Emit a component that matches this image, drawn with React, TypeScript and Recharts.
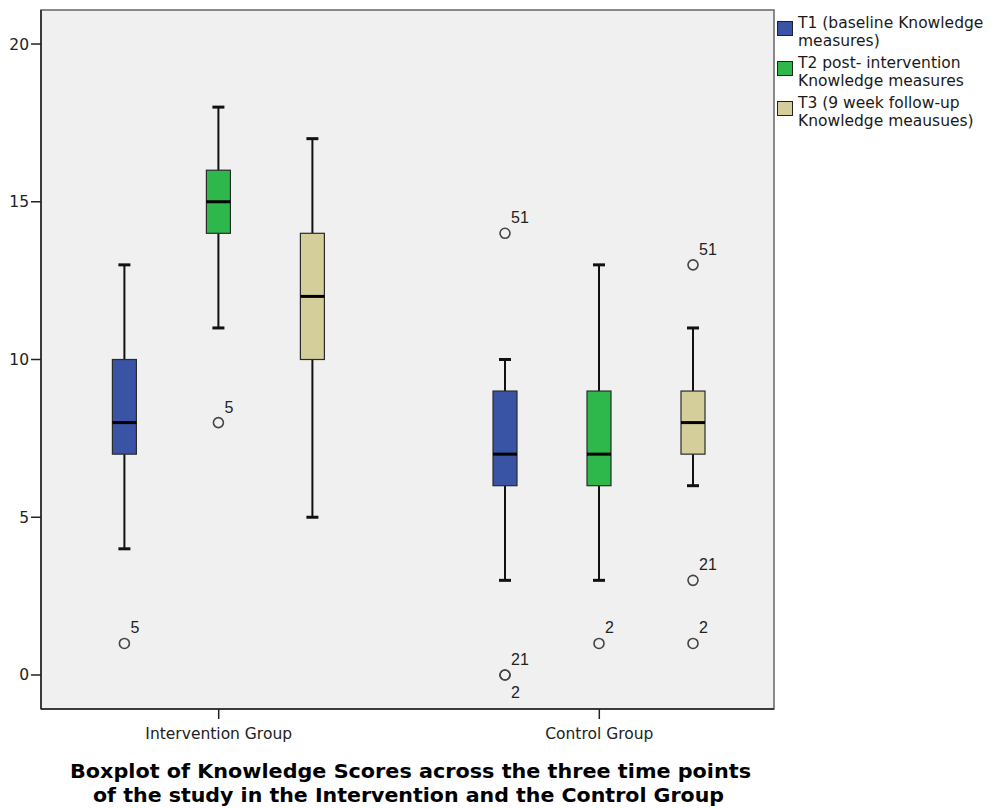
import React from 'react';
import { BarChart, Bar, XAxis, YAxis, CartesianGrid, ReferenceArea, Legend, Label } from 'recharts';

// ---- Data ----
const groups = ['Intervention Group', 'Control Group'];
const groupPos = [1, 2];
const yTicks = [0, 5, 10, 15, 20];

const t1Stats = [
  { min: 4, q1: 7, median: 8, q3: 10, max: 13 },
  { min: 3, q1: 6, median: 7, q3: 9, max: 10 },
];
const t2Stats = [
  { min: 11, q1: 14, median: 15, q3: 16, max: 18 },
  { min: 3, q1: 6, median: 7, q3: 9, max: 13 },
];
const t3Stats = [
  { min: 5, q1: 10, median: 12, q3: 14, max: 17 },
  { min: 6, q1: 7, median: 8, q3: 9, max: 11 },
];

const t1Outliers = [
  [{ value: 1, label: '5' }],
  [{ value: 14, label: '51' }, { value: 0, label: '21' }, { value: 0, label: '2', below: true }],
];
const t2Outliers = [
  [{ value: 8, label: '5' }],
  [{ value: 1, label: '2' }],
];
const t3Outliers = [
  [],
  [{ value: 13, label: '51' }, { value: 3, label: '21' }, { value: 1, label: '2' }],
];

const seriesKeys = ['t1', 't2', 't3'];
const seriesColors = ['#3A54A5', '#2EB84B', '#D4CF9A'];
const legendLines = [
  ['T1 (baseline Knowledge', 'measures)'],
  ['T2 post- intervention', 'Knowledge measures'],
  ['T3 (9 week follow-up', 'Knowledge meausues)'],
];
const titleLines = [
  'Boxplot of Knowledge Scores across the three time points',
  'of the study in the Intervention and the Control Group',
];

const data = groups.map((g, i) => ({
  group: g,
  pos: groupPos[i],
  t1: t1Stats[i],
  t2: t2Stats[i],
  t3: t3Stats[i],
  t1Out: t1Outliers[i],
  t2Out: t2Outliers[i],
  t3Out: t3Outliers[i],
}));

const Y_DOMAIN = [-1.078, 21.078];
const X_DOMAIN = [0.5331, 2.459];

const makeBoxShape = (key: string, color: string) => (props: any) => {
  const { x, y, width, height, payload } = props;
  const s = payload[key];
  const outs = payload[key + 'Out'] || [];
  const ppu = height / (s.max - s.min);
  const toY = (v: number) => y + (s.max - v) * ppu;
  const cx = x + width / 2;
  const capHalf = 6;
  return (
    <g>
      <line x1={cx} x2={cx} y1={toY(s.max)} y2={toY(s.q3)} stroke="#111" strokeWidth={2} />
      <line x1={cx} x2={cx} y1={toY(s.q1)} y2={toY(s.min)} stroke="#111" strokeWidth={2} />
      <line x1={cx - capHalf} x2={cx + capHalf} y1={toY(s.max)} y2={toY(s.max)} stroke="#111" strokeWidth={3} />
      <line x1={cx - capHalf} x2={cx + capHalf} y1={toY(s.min)} y2={toY(s.min)} stroke="#111" strokeWidth={3} />
      <rect x={x} y={toY(s.q3)} width={width} height={toY(s.q1) - toY(s.q3)} fill={color} stroke="#2a2a2a" strokeWidth={1.2} />
      <line x1={x} x2={x + width} y1={toY(s.median)} y2={toY(s.median)} stroke="#000" strokeWidth={3} />
      {outs.map((o: any, i: number) => {
        const cy = toY(o.value);
        return (
          <g key={i}>
            <circle cx={cx} cy={cy} r={5} fill="none" stroke="#444" strokeWidth={1.6} />
            <text
              x={cx + 6}
              y={o.below ? cy + 23 : cy - 10}
              fontFamily="'Liberation Sans', Arial, sans-serif"
              fontSize={16}
              fill="#222"
            >
              {o.label}
            </text>
          </g>
        );
      })}
    </g>
  );
};

const renderLegend = () => (
  <div style={{ fontFamily: "'DejaVu Sans', sans-serif", fontSize: 15.5, lineHeight: '18.2px', color: '#1a1a1a' }}>
    {legendLines.map((lines, i) => (
      <div key={i} style={{ position: 'relative', height: 40, paddingLeft: 21 }}>
        <div
          style={{
            position: 'absolute',
            left: 0,
            top: 7,
            width: 14,
            height: 13,
            background: seriesColors[i],
            border: '1px solid #222',
          }}
        />
        {lines.map((l, j) => (
          <div key={j} style={{ whiteSpace: 'nowrap' }}>{l}</div>
        ))}
      </div>
    ))}
  </div>
);

const renderTitle = (props: any) => {
  const vb = props.viewBox || { x: 41, y: 709, width: 733 };
  const cx = vb.x + vb.width / 2 + 3;
  return (
    <g>
      <text
        x={cx}
        y={vb.y + 69.3}
        textAnchor="middle"
        fontFamily="'DejaVu Sans', sans-serif"
        fontWeight="bold"
        fontSize={19}
        fill="#000"
        textLength={681}
        lengthAdjust="spacingAndGlyphs"
      >
        {titleLines[0]}
      </text>
      <text
        x={cx - 2}
        y={vb.y + 92.7}
        textAnchor="middle"
        fontFamily="'DejaVu Sans', sans-serif"
        fontWeight="bold"
        fontSize={19}
        fill="#000"
        textLength={631}
        lengthAdjust="spacingAndGlyphs"
      >
        {titleLines[1]}
      </text>
    </g>
  );
};

export default function App() {
  return (
    <div style={{ position: 'absolute', left: 0, top: 0, width: 994, height: 809, background: '#fff' }}>
      <BarChart
        width={994}
        height={809}
        data={data}
        margin={{ top: 10, right: 220, bottom: 0, left: 0 }}
        barGap={70}
        barSize={24}
      >
        <CartesianGrid fill="#F0F0F0" horizontal={false} vertical={false} />
        <XAxis
          type="number"
          dataKey="pos"
          domain={X_DOMAIN}
          allowDataOverflow
          ticks={groupPos}
          tickFormatter={(v: number) => groups[groupPos.indexOf(v)] || ''}
          height={100}
          tickSize={10}
          tickMargin={9}
          axisLine={{ stroke: '#222', strokeWidth: 1.5 }}
          tickLine={{ stroke: '#222', strokeWidth: 1.5 }}
          tick={{ fontFamily: "'DejaVu Sans', sans-serif", fontSize: 15.5, fill: '#222' }}
        >
          <Label content={renderTitle} position="bottom" />
        </XAxis>
        <YAxis
          type="number"
          domain={Y_DOMAIN}
          allowDataOverflow
          ticks={yTicks}
          width={41}
          tickSize={10}
          tickMargin={2}
          axisLine={{ stroke: '#222', strokeWidth: 1.5 }}
          tickLine={{ stroke: '#222', strokeWidth: 1.5 }}
          tick={{ fontFamily: "'DejaVu Sans', sans-serif", fontSize: 15.5, fill: '#222' }}
        />
        {seriesKeys.map((k, i) => (
          <Bar
            key={k}
            dataKey={(d: any) => [d[k].min, d[k].max]}
            name={legendLines[i].join(' ')}
            fill={seriesColors[i]}
            shape={makeBoxShape(k, seriesColors[i])}
            isAnimationActive={false}
          />
        ))}
        <ReferenceArea
          x1={X_DOMAIN[0]}
          x2={X_DOMAIN[1]}
          y1={Y_DOMAIN[0]}
          y2={Y_DOMAIN[1]}
          fill="none"
          stroke="#666"
          strokeWidth={1.5}
          ifOverflow="visible"
        />
        <Legend
          layout="vertical"
          align="center"
          verticalAlign="middle"
          content={renderLegend}
          wrapperStyle={{ left: 777, top: 13.8, width: 217, bottom: 'auto', right: 'auto' }}
        />
      </BarChart>
    </div>
  );
}
